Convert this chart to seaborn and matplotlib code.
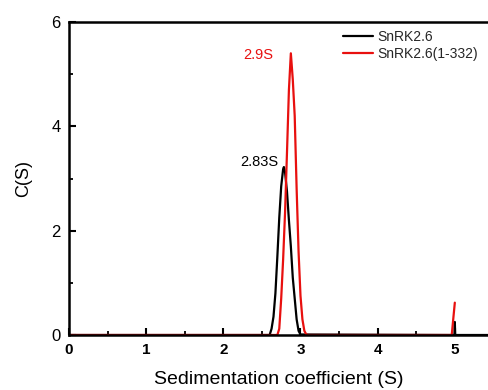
import matplotlib
matplotlib.use("Agg")
import matplotlib.pyplot as plt
import seaborn as sns
import pandas as pd
from matplotlib.ticker import MultipleLocator

# --- data ---
series_names = ["SnRK2.6", "SnRK2.6(1-332)"]

x_black = [0.0, 2.60, 2.625, 2.65, 2.675, 2.70, 2.725, 2.75, 2.775, 2.785,
           2.80, 2.825, 2.85, 2.875, 2.90, 2.925, 2.95, 2.975, 3.0,
           4.995, 5.0, 5.005, 5.43]
y_black = [0.0, 0.0, 0.12, 0.35, 0.8, 1.5, 2.25, 2.85, 3.18, 3.22,
           3.12, 2.75, 2.2, 1.7, 1.1, 0.7, 0.3, 0.08, 0.01,
           0.0, 0.25, 0.0, 0.0]

x_red = [0.0, 2.70, 2.725, 2.75, 2.775, 2.80, 2.825, 2.85, 2.875, 2.90,
         2.925, 2.95, 2.975, 3.0, 3.025, 3.05, 3.075, 3.1, 4.96, 5.0]
y_red = [0.0, 0.0, 0.12, 0.7, 1.45, 2.35, 3.5, 4.7, 5.40, 4.9,
         4.2, 2.8, 1.6, 0.75, 0.3, 0.08, 0.01, 0.0, 0.0, 0.62]

peak_labels = ["2.83S", "2.9S"]
x_ticks = [0, 1, 2, 3, 4, 5]
y_ticks = [0, 2, 4, 6]

df = pd.concat([
    pd.DataFrame({"S": x_black, "C": y_black, "sample": series_names[0]}),
    pd.DataFrame({"S": x_red, "C": y_red, "sample": series_names[1]}),
], ignore_index=True)

sns.set_style("ticks")
plt.rcParams["font.family"] = ["Liberation Sans", "DejaVu Sans"]

fig = plt.figure(figsize=(4.88, 3.90), dpi=100)
ax = fig.add_axes([69 / 488, 1 - 335 / 390, 1 - 69 / 488, 313 / 390])

palette = {series_names[0]: "#000000", series_names[1]: "#e8100f"}
sns.lineplot(data=df, x="S", y="C", hue="sample", palette=palette,
             linewidth=1.6, ax=ax, sort=False, estimator=None)

ax.set_xlim(0, 5.43)
ax.set_ylim(0, 6)
ax.set_xticks(x_ticks)
ax.set_yticks(y_ticks)
ax.xaxis.set_minor_locator(MultipleLocator(0.5))
ax.yaxis.set_minor_locator(MultipleLocator(1))
ax.tick_params(axis="both", which="major", direction="in", length=5, width=1.5,
               colors="black")
ax.tick_params(axis="both", which="minor", direction="in", length=3, width=1.3,
               colors="black")
ax.tick_params(axis="x", which="major", labelsize=11, pad=6)
ax.tick_params(axis="y", which="major", labelsize=12, pad=6)
ax.tick_params(axis="y", which="both", right=False)
for lab in ax.get_xticklabels():
    lab.set_fontweight("bold")

for side in ["left", "bottom", "top"]:
    ax.spines[side].set_linewidth(1.8)
    ax.spines[side].set_color("black")
    ax.spines[side].set_visible(True)
ax.spines["right"].set_visible(False)

ax.set_xlabel("Sedimentation coefficient (S)", fontsize=14, labelpad=10,
              color="black")
ax.set_ylabel("C(S)", fontsize=13, labelpad=14, color="black")

ax.text(2.47, 3.31, peak_labels[0], color="#000000", fontsize=10.5,
        ha="center", va="center")
ax.text(2.45, 5.36, peak_labels[1], color="#e8100f", fontsize=10.5,
        ha="center", va="center")

ax.legend(loc="upper left", bbox_to_anchor=(0.654, 0.975), frameon=False,
          fontsize=10, handlelength=2.15, handletextpad=0.35,
          labelspacing=0.2, borderpad=0, borderaxespad=0, title=None)

fig.savefig("out.png", dpi=100)
